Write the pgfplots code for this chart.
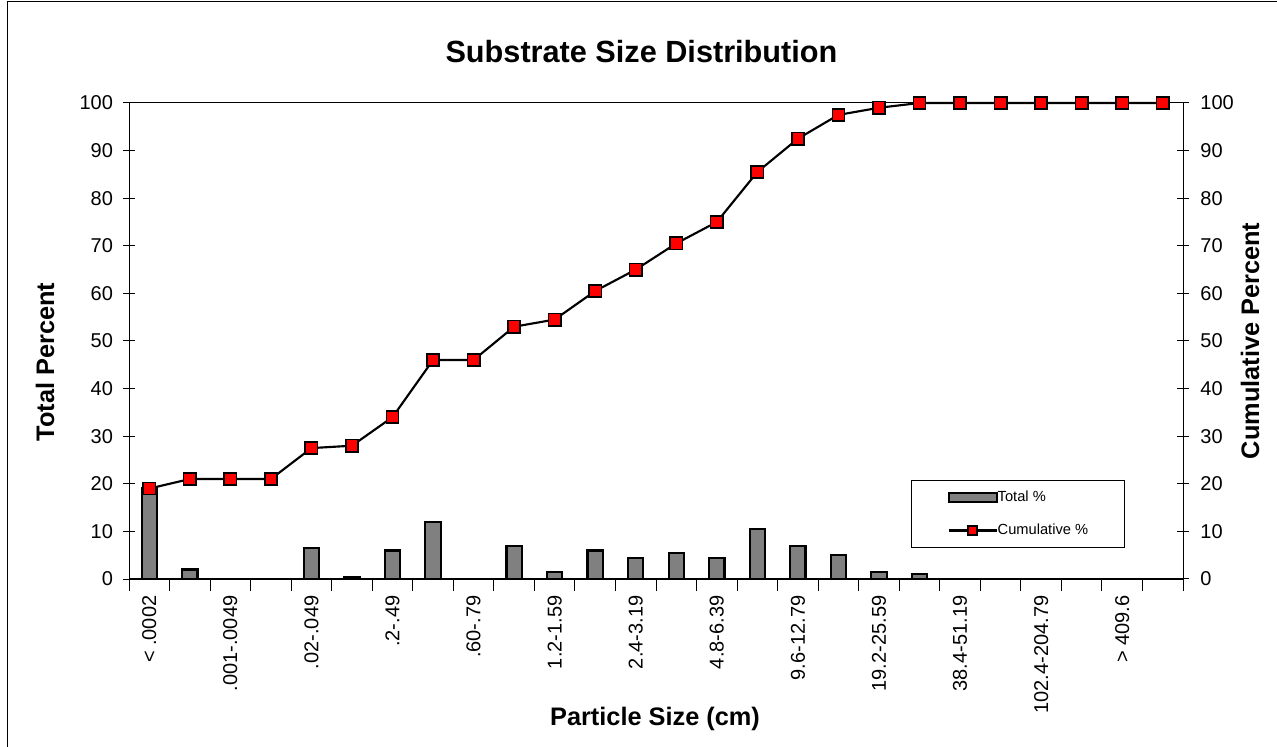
\documentclass[border=0pt]{standalone}
\usepackage{fontspec}
\setmainfont{Liberation Sans}
\usepackage{pgfplots}
\pgfplotsset{compat=1.18}

\definecolor{barGray}{RGB}{128,128,128}

% 1px of the reference = 0.75pt
\pgfplotsset{
  substrate/.style={
    at={(96.75pt,125.25pt)}, anchor=south west,
    scale only axis, width=790.5pt, height=357pt,
    xmin=-0.5, xmax=25.5, ymin=0, ymax=100,
    ytick={0,10,...,100},
    tick align=center,
    major tick length=9pt, minor tick length=9pt,
    tick style={black, line width=0.75pt},
    axis line style={line width=0.75pt},
    ticklabel style={font=\fontsize{15}{18}\selectfont},
    /pgf/number format/assume math mode=true,
  },
  barlegend/.style={legend image code/.code={\draw[##1] (0pt,-3.5pt) rectangle (36pt,3.5pt);}},
  linelegend/.style={legend image code/.code={\draw[mark repeat=2,mark phase=2,##1,mark size=3.3pt]
    plot coordinates {(0pt,0pt) (18pt,0pt) (36pt,0pt)};}},
}

\begin{document}
\begin{tikzpicture}
\path[use as bounding box] (0,0) rectangle (957.75pt,559.5pt);
\draw[line width=1.2pt] (5.6pt,-2pt) -- (5.6pt,558.4pt) -- (962pt,558.4pt);

% bars: total percent
\begin{axis}[substrate,
  ybar, bar width=11.5pt,
  xtick={0,2,...,24},
  xticklabels={{< .0002},{.001-.0049},{.02-.049},{.2-.49},{.60-.79},{1.2-1.59},{2.4-3.19},{4.8-6.39},{9.6-12.79},{19.2-25.59},{38.4-51.19},{102.4-204.79},{> 409.6}},
  minor xtick={-0.5,0.5,...,25.5},
  major x tick style={draw=none},
  xtick pos=bottom, ytick pos=left,
  x tick label style={rotate=90, anchor=east},
  y tick label style={xshift=-4pt},
]
\addplot[fill=barGray, draw=black, line width=1.6pt] coordinates {
  (0,19) (1,2) (4,6.5) (5,0.5) (6,6) (7,12) (9,7) (10,1.5) (11,6)
  (12,4.5) (13,5.5) (14,4.5) (15,10.5) (16,7) (17,5) (18,1.5) (19,1)
};
\end{axis}

% line: cumulative percent
\begin{axis}[substrate,
  xtick=\empty,
  ytick pos=right, yticklabel pos=right,
  y tick label style={xshift=5pt},
  clip=false,
  legend cell align=left,
  legend style={at={(axis description cs:0.742,0.208)}, anchor=north west,
    draw=black, line width=0.75pt,
    font=\fontsize{11}{13}\selectfont,
    nodes={inner sep=0pt, text height=8pt, text depth=2.5pt},
    inner xsep=27pt, inner ysep=7.5pt, row sep=14.25pt,
    /tikz/every even column/.append style={column sep=3pt}},
]
\addlegendimage{fill=barGray, draw=black, line width=1.6pt, barlegend}
\addlegendentry{Total \%}
\addplot[black, line width=1.6pt, mark=square*,
  mark options={fill=red, draw=black, line width=1.2pt}, mark size=4.6pt,
  linelegend] coordinates {
  (0,19) (1,21) (2,21) (3,21) (4,27.5) (5,28) (6,34) (7,46) (8,46)
  (9,53) (10,54.5) (11,60.5) (12,65) (13,70.5) (14,75) (15,85.5)
  (16,92.5) (17,97.5) (18,99) (19,100) (20,100) (21,100) (22,100)
  (23,100) (24,100) (25,100)
};
\addlegendentry{Cumulative \%}
\end{axis}

\node[anchor=base, font=\fontsize{23}{27}\selectfont\bfseries] at (481.1pt,512.25pt) {Substrate Size Distribution};
\node[anchor=base, font=\fontsize{19}{22}\selectfont\bfseries] at (491.25pt,15.75pt) {Particle Size (cm)};
\node[anchor=base, rotate=90, font=\fontsize{19}{22}\selectfont\bfseries] at (40.5pt,288pt) {Total Percent};
\node[anchor=base, rotate=90, font=\fontsize{19}{22}\selectfont\bfseries] at (944.25pt,303.75pt) {Cumulative Percent};
\end{tikzpicture}
\end{document}
